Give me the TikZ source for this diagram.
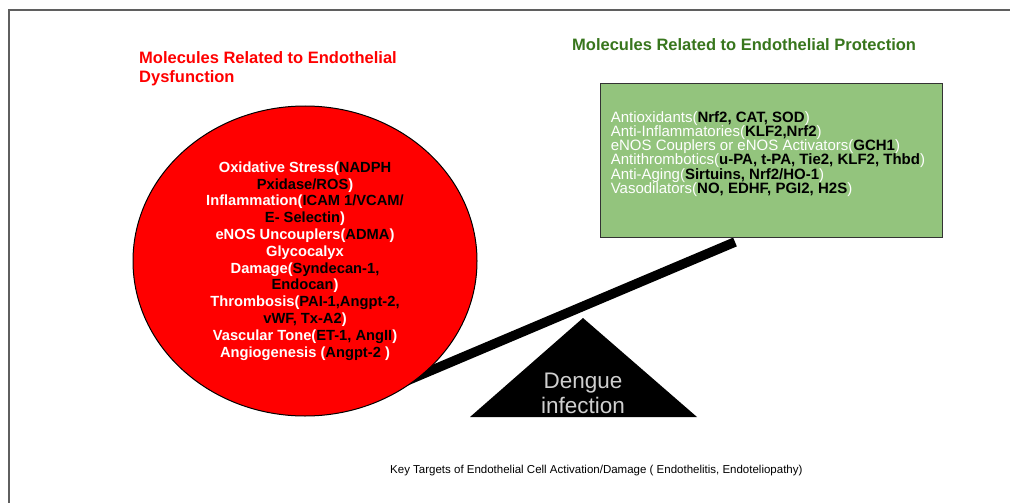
\documentclass[tikz,border=0pt]{standalone}
\usepackage{fontspec}
\setmainfont{Liberation Sans}
\usetikzlibrary{shapes.geometric}
\definecolor{dysred}{HTML}{FF0000}
\definecolor{protgreen}{HTML}{93C47D}
\definecolor{titlegreen}{HTML}{38761D}
\definecolor{framegray}{HTML}{5F5F5F}
\definecolor{denguegray}{HTML}{CFCFCF}
\newcommand{\molec}[1]{{\color{black}\bfseries #1}}

\begin{document}
\begin{tikzpicture}[x=1pt,y=-1pt,
  title/.style={font=\fontsize{16.5}{19}\selectfont\bfseries, anchor=west, inner sep=0pt, align=left},
  dysfn/.style={ellipse, draw=black, line width=1pt, fill=dysred, minimum width=344pt, minimum height=310pt,
    inner sep=0pt, align=center, text=white, font=\fontsize{14.7}{16.8}\selectfont\bfseries},
  protbox/.style={draw=black!80, line width=0.8pt, fill=protgreen, minimum width=342pt, minimum height=154pt},
  protlist/.style={anchor=west, inner sep=0pt, align=left, text=white, font=\fontsize{15}{14.2}\selectfont}
]
\useasboundingbox (0,0) rectangle (1010,503);
\fill[white] (0,0) rectangle (1010,503);
\clip (0,0) rectangle (1010,503);
\draw[framegray, line width=2pt] (9,520) -- (9,10) -- (1030,10);

\node[title, text=dysred] (dystitle) at (139,69) {Molecules Related to Endothelial\\Dysfunction};
\node[title, text=titlegreen] (prottitle) at (572,45) {Molecules Related to Endothelial Protection};

% seesaw
\coordinate (beamlow) at (385,390);
\coordinate (beamhigh) at (735,242);
\draw[line width=9.5pt] (beamlow) -- (beamhigh);
\coordinate (fulcL) at (470,417);
\coordinate (fulcT) at (583,318);
\coordinate (fulcR) at (697,417);
\fill (fulcL) -- (fulcT) -- (fulcR) -- cycle;
\node[text=denguegray, align=center, font=\fontsize{22.5}{25}\selectfont] (dengue) at (583,393) {Dengue\\infection};

\node[dysfn] (dys) at (305,261) {Oxidative Stress(\molec{NADPH}\\\molec{Pxidase/ROS})\\
  Inflammation(\molec{ICAM 1/VCAM/}\\\molec{E- Selectin})\\
  eNOS Uncouplers(\molec{ADMA})\\
  Glycocalyx\\
  Damage(\molec{Syndecan-1,}\\\molec{Endocan})\\
  Thrombosis(\molec{PAI-1,Angpt-2,}\\\molec{vWF, Tx-A2})\\
  Vascular Tone(\molec{ET-1, AngII})\\
  Angiogenesis (\molec{Angpt-2} )};

\node[protbox] (prot) at (771,160) {};
\node[protlist] (protitems) at ([xshift=11pt,yshift=6pt]prot.west) {Antioxidants(\molec{Nrf2, CAT, SOD})\\
  Anti-Inflammatories(\molec{KLF2,Nrf2})\\
  eNOS Couplers or eNOS Activators(\molec{GCH1})\\
  Antithrombotics(\molec{u-PA, t-PA, Tie2, KLF2, Thbd})\\
  Anti-Aging(\molec{Sirtuins, Nrf2/HO-1})\\
  Vasodilators(\molec{NO, EDHF, PGI2, H2S})};

\node[font=\fontsize{11.5}{13}\selectfont, anchor=west, inner sep=0pt] (caption) at (390,471)
  {Key Targets of Endothelial Cell Activation/Damage ( Endothelitis, Endoteliopathy)};
\end{tikzpicture}
\end{document}
